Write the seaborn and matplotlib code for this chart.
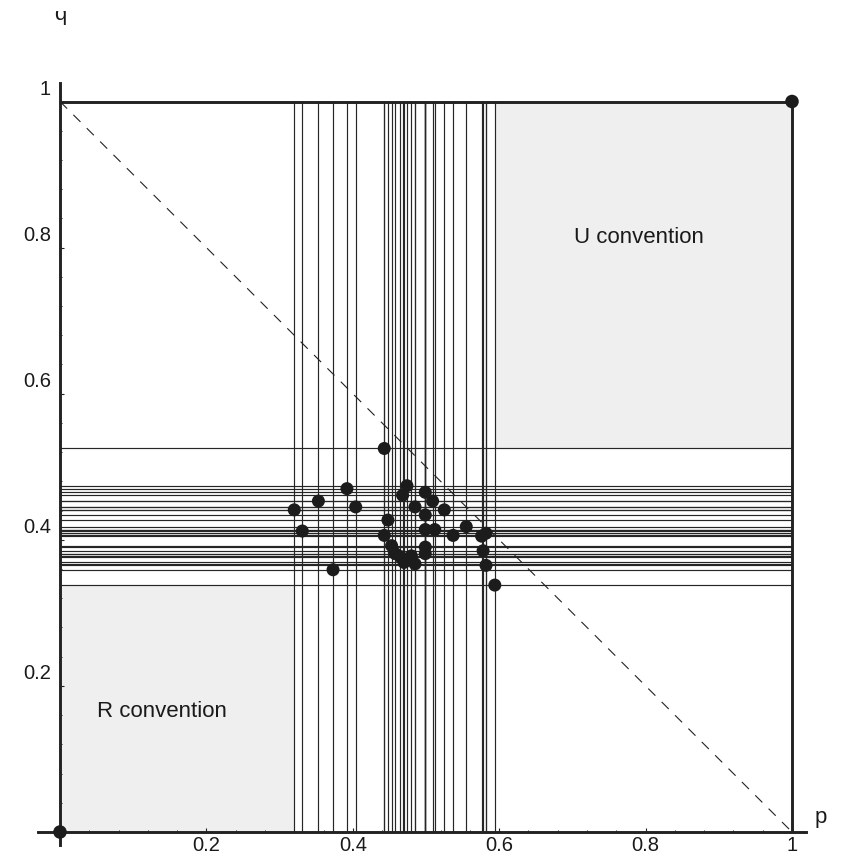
import numpy as np
import pandas as pd
import matplotlib
matplotlib.use("Agg")
import matplotlib.pyplot as plt
import matplotlib.transforms as mtransforms
from matplotlib.ticker import FixedLocator
import seaborn as sns

# Observed (p, q) pairs
p_vals = [0.320, 0.331, 0.353, 0.373, 0.392, 0.404, 0.443, 0.443, 0.448, 0.453,
          0.458, 0.468, 0.465, 0.474, 0.470, 0.480, 0.485, 0.485, 0.499, 0.499,
          0.499, 0.499, 0.499, 0.509, 0.512, 0.525, 0.537, 0.555, 0.576, 0.582,
          0.578, 0.582, 0.594]
q_vals = [0.441, 0.412, 0.453, 0.359, 0.470, 0.445, 0.525, 0.406, 0.427, 0.392,
          0.381, 0.461, 0.377, 0.474, 0.369, 0.378, 0.367, 0.445, 0.465, 0.434,
          0.414, 0.390, 0.381, 0.453, 0.414, 0.441, 0.406, 0.418, 0.405, 0.409,
          0.385, 0.365, 0.338]

x_ticks = [0.2, 0.4, 0.6, 0.8, 1.0]
x_tick_labels = ["0.2", "0.4", "0.6", "0.8", "1"]
y_ticks = [0.2, 0.4, 0.6, 0.8, 1.0]
y_tick_labels = ["0.2", "0.4", "0.6", "0.8", "1"]
region_labels = ["R convention", "U convention"]

df = pd.DataFrame({"p": p_vals, "q": q_vals})

sns.set_style("white")
plt.rcParams["font.family"] = ["Liberation Sans", "DejaVu Sans"]

W, H, DPI = 844, 861, 100
fig = plt.figure(figsize=(W / DPI, H / DPI), dpi=DPI)
ax = fig.add_axes([0, 0, 1, 1])

# pixel -> data mapping: p=0 at x=60, p=1 at x=792; q=0 at y=832, q=1 at y=101.5
px0, px1 = 60.0, 792.0
py0, py1 = 832.0, 101.5
sx = px1 - px0
sy = py0 - py1
ax.set_xlim((0 - px0) / sx, (W - px0) / sx)
ax.set_ylim((py0 - H) / sy, (py0 - 0) / sy)

pmin, pmax = df["p"].min(), df["p"].max()
qmin, qmax = df["q"].min(), df["q"].max()

# shaded convention regions
fill_c = "#efefef"
ax.fill_between([0, pmin], 0, qmin, color=fill_c, lw=0, zorder=0)
ax.fill_between([pmax, 1], qmax, 1, color=fill_c, lw=0, zorder=0)

# one vertical and one horizontal line through each observation
line_c = "#262626"
ax.vlines(df["p"], 0, 1, colors=line_c, lw=0.85, zorder=1)
ax.hlines(df["q"], 0, 1, colors=line_c, lw=0.85, zorder=1)

# anti-diagonal p + q = 1
ax.plot([0, 1], [1, 0], color="#222222", lw=0.8, ls=(0, (9, 8)), zorder=2)

# frame: top and right edges of the unit square
ax.plot([0, 1], [1, 1], color="#222222", lw=2.1, zorder=3, solid_capstyle="butt")
ax.plot([1, 1], [0, 1], color="#222222", lw=2.1, zorder=3, solid_capstyle="butt")

# data points
sns.scatterplot(data=df, x="p", y="q", ax=ax, s=88, color="#1c1c1c",
                edgecolor="none", linewidth=0, zorder=5, legend=False)
# corner points
ax.scatter([0, 1], [0, 1], s=95, color="#1c1c1c", edgecolor="none",
           zorder=6, clip_on=False)

# axes through the origin
for side in ["top", "right"]:
    ax.spines[side].set_visible(False)
ax.spines["left"].set_position(("data", 0))
ax.spines["bottom"].set_position(("data", 0))
ax.spines["left"].set_bounds((py0 - 845) / sy, (py0 - 83) / sy)
ax.spines["bottom"].set_bounds((38 - px0) / sx, (806 - px0) / sx)
for side in ["left", "bottom"]:
    ax.spines[side].set_linewidth(2.1)
    ax.spines[side].set_color("#222222")
    ax.spines[side].set_zorder(4)

ax.set_xticks(x_ticks)
ax.set_xticklabels(x_tick_labels)
ax.set_yticks(y_ticks)
ax.set_yticklabels(y_tick_labels)
minor_pos = [round(0.04 * i, 2) for i in range(1, 25) if i % 5 != 0]
ax.xaxis.set_minor_locator(FixedLocator(minor_pos))
ax.yaxis.set_minor_locator(FixedLocator(minor_pos))
ax.tick_params(axis="both", which="major", direction="in", length=3,
               width=0.8, color="#222222", labelsize=14.5, labelcolor="#1a1a1a")
ax.tick_params(axis="both", which="minor", direction="in", length=1.6,
               width=0.7, color="#222222")
ax.tick_params(axis="x", which="major", pad=3)
ax.tick_params(axis="y", which="major", pad=6.5)
ax.xaxis.set_ticks_position("bottom")
ax.yaxis.set_ticks_position("left")

# y tick labels sit a little above their ticks
shift = mtransforms.ScaledTranslation(0, 14 / DPI, fig.dpi_scale_trans)
for lab in ax.get_yticklabels():
    lab.set_transform(lab.get_transform() + shift)

ax.grid(False)
ax.set_xlabel("")
ax.set_ylabel("")

# region labels
ax.text(0.139, 0.165, region_labels[0], fontsize=16, ha="center", va="center",
        color="#1a1a1a")
ax.text(0.791, 0.814, region_labels[1], fontsize=16, ha="center", va="center",
        color="#1a1a1a")

# axis names
ax.text((821 - px0) / sx, (py0 - 818) / sy, "p", fontsize=16, ha="center",
        va="center", color="#1a1a1a")
tq = ax.text(0.0, (py0 - 20) / sy, "q", fontsize=16, ha="center",
             va="baseline", color="#1a1a1a")
tq.set_clip_box(mtransforms.Bbox.from_extents(0, 0, W, H - 11))
tq.set_clip_on(True)

fig.savefig("out.png", dpi=DPI)
